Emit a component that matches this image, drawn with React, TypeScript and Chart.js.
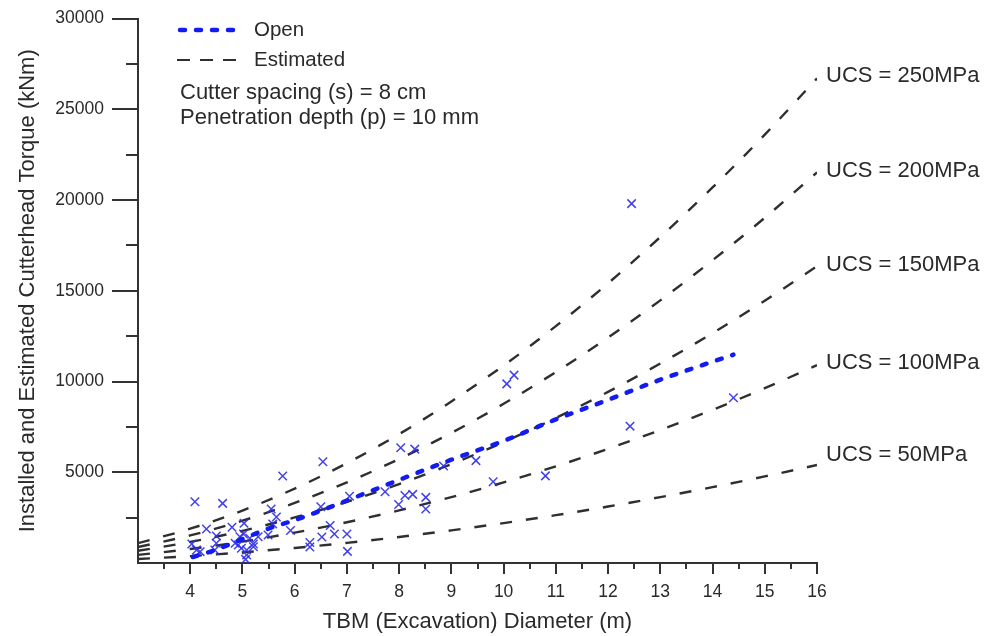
import React, { useEffect, useRef } from "react";
import { Chart, registerables } from "chart.js";

Chart.register(...registerables);

// ---- Data ----
const diameterGrid = [3, 4, 5, 6, 7, 8, 9, 10, 11, 12, 13, 14, 15, 16];
const ucs250 = [1090, 1890, 2890, 4100, 5500, 7100, 8900, 10880, 13050, 15410, 17960, 20690, 23600, 26700];
const ucs200 = [880, 1520, 2330, 3310, 4440, 5730, 7170, 8770, 10520, 12420, 14470, 16680, 19020, 21520];
const ucs150 = [670, 1160, 1770, 2510, 3370, 4350, 5450, 6660, 7990, 9430, 10990, 12660, 14450, 16350];
const ucs100 = [445, 770, 1180, 1675, 2245, 2900, 3630, 4440, 5325, 6290, 7330, 8440, 9630, 10900];
const ucs50 = [220, 380, 585, 830, 1110, 1435, 1800, 2200, 2635, 3110, 3630, 4180, 4770, 5400];

const ucsLabels = ["UCS = 250MPa", "UCS = 200MPa", "UCS = 150MPa", "UCS = 100MPa", "UCS = 50MPa"];
const ucsLabelTorque = [26850, 21600, 16420, 11050, 5950];

const openDiameter = [4.05, 4.5, 5.0, 5.5, 6.0, 7.0, 8.0, 9.0, 10.0, 11.0, 12.0, 13.0, 14.4];
const openTorque = [330, 740, 1320, 1900, 2360, 3440, 4580, 5690, 6730, 7910, 8990, 10100, 11480];

const installedDiameter = [
  4.09, 4.62, 5.77, 6.54, 8.03, 8.30, 10.06, 10.20, 12.45, 12.42, 14.40, 10.80, 9.80, 9.47,
  8.85, 7.73, 7.99, 8.11, 8.26, 8.51, 8.51, 7.05, 6.50, 6.68, 6.76, 7.00, 7.01, 6.52, 6.29,
  6.29, 5.92, 5.55, 5.65, 5.58, 5.49, 4.31, 4.50, 4.50, 4.47, 4.03, 4.12, 4.19, 4.80, 4.86,
  4.92, 4.98, 5.03, 5.02, 4.95, 5.08, 5.06, 5.08, 5.14, 5.21, 5.21, 5.30,
];
const installedTorque = [
  3375, 3285, 4790, 5580, 6350, 6275, 9870, 10350, 19800, 7540, 9100, 4800, 4475, 5640,
  5340, 3925, 3220, 3720, 3780, 3615, 2980, 3680, 3100, 2070, 1600, 1600, 640, 1430, 1130,
  880, 1790, 2980, 2530, 2145, 1540, 1870, 1490, 1085, 715, 1045, 715, 625, 1965, 1085,
  990, 810, 2185, 1600, 1450, 440, 200, 715, 1360, 1045, 900, 1450,
];

const xMinorTicks = [3.5, 4.5, 5.5, 6.5, 7.5, 8.5, 9.5, 10.5, 11.5, 12.5, 13.5, 14.5, 15.5];
const yMinorTicks = [2500, 7500, 12500, 17500, 22500, 27500];

// ---- Styles ----
const FONT = "'Liberation Sans', Arial, Helvetica, sans-serif";
const TEXT = "#2a2a2a";
const AXIS = "#333333";
const DASH_COLOR = "#2f2f2f";
const BLUE = "rgb(18, 28, 238)";
const MARK = "rgba(45, 45, 235, 0.9)";

const pts = (xs: number[], ys: number[]) => xs.map((x, i) => ({ x, y: ys[i] }));

const annotPlugin = {
  id: "annot",
  afterDraw(chart: any) {
    const { ctx, chartArea, scales } = chart;
    const xs = scales.x;
    const ys = scales.y;
    ctx.save();
    // minor ticks
    ctx.strokeStyle = AXIS;
    ctx.lineWidth = 2;
    xMinorTicks.forEach((v) => {
      const px = Math.round(xs.getPixelForValue(v));
      ctx.beginPath();
      ctx.moveTo(px, chartArea.bottom);
      ctx.lineTo(px, chartArea.bottom + 6);
      ctx.stroke();
    });
    yMinorTicks.forEach((v) => {
      const py = Math.round(ys.getPixelForValue(v));
      ctx.beginPath();
      ctx.moveTo(chartArea.left - 12, py);
      ctx.lineTo(chartArea.left, py);
      ctx.stroke();
    });

    // legend
    ctx.lineCap = "round";
    ctx.strokeStyle = BLUE;
    ctx.lineWidth = 4.5;
    ctx.setLineDash([5, 11]);
    ctx.beginPath();
    ctx.moveTo(180, 30);
    ctx.lineTo(237, 30);
    ctx.stroke();
    ctx.lineCap = "butt";
    ctx.strokeStyle = DASH_COLOR;
    ctx.lineWidth = 2;
    ctx.setLineDash([13, 10]);
    ctx.beginPath();
    ctx.moveTo(177, 60);
    ctx.lineTo(237, 60);
    ctx.stroke();
    ctx.setLineDash([]);

    ctx.fillStyle = TEXT;
    ctx.textBaseline = "middle";
    ctx.textAlign = "left";
    ctx.font = `20.5px ${FONT}`;
    ctx.fillText("Open", 254, 30);
    ctx.fillText("Estimated", 254, 60);
    ctx.font = `22px ${FONT}`;
    ctx.fillText("Cutter spacing (s) = 8 cm", 180, 93);
    ctx.fillText("Penetration depth (p) = 10 mm", 180, 118);

    // UCS labels
    ucsLabels.forEach((t, i) => {
      ctx.fillText(t, chartArea.right + 9, ys.getPixelForValue(ucsLabelTorque[i]));
    });
    ctx.restore();
  },
};

export default function App() {
  const ref = useRef<HTMLCanvasElement | null>(null);

  useEffect(() => {
    if (!ref.current) return;
    const curve = (data: number[]) => ({
      type: "scatter" as const,
      data: pts(diameterGrid, data),
      showLine: true,
      borderColor: DASH_COLOR,
      borderWidth: 2.4,
      borderDash: [12, 14],
      pointRadius: 0,
      cubicInterpolationMode: "monotone" as const,
      fill: false,
    });
    const chart = new Chart(ref.current, {
      type: "scatter",
      data: {
        datasets: [
          {
            data: pts(openDiameter, openTorque),
            showLine: true,
            borderColor: BLUE,
            borderWidth: 4.5,
            borderDash: [5, 11],
            borderCapStyle: "round",
            pointRadius: 0,
            cubicInterpolationMode: "monotone",
            fill: false,
          } as any,
          {
            data: pts(installedDiameter, installedTorque),
            showLine: false,
            pointStyle: "crossRot",
            pointRadius: 6,
            borderColor: MARK,
            backgroundColor: MARK,
            pointBorderWidth: 1.5,
            borderWidth: 1.5,
          } as any,
          curve(ucs250),
          curve(ucs200),
          curve(ucs150),
          curve(ucs100),
          curve(ucs50),
        ],
      },
      options: {
        responsive: false,
        animation: false,
        devicePixelRatio: 1,
        layout: { padding: { top: 18, right: 186, left: 0, bottom: 0 } },
        plugins: { legend: { display: false }, tooltip: { enabled: false } },
        scales: {
          x: {
            type: "linear",
            min: 3,
            max: 16,
            afterFit: (s: any) => {
              s.height = 73;
            },
            ticks: {
              stepSize: 1,
              padding: 8,
              autoSkip: false,
              maxRotation: 0,
              color: TEXT,
              font: { family: FONT, size: 17.5 },
              callback: (v: any) => (v === 3 ? "" : String(v)),
            },
            grid: {
              drawOnChartArea: false,
              drawTicks: true,
              tickLength: 11,
              lineWidth: 2,
              color: (c: any) => (c.tick && c.tick.value === 3 ? "rgba(0,0,0,0)" : AXIS),
            },
            border: { display: true, color: AXIS, width: 2 },
            title: {
              display: true,
              text: "TBM (Excavation) Diameter (m)",
              color: TEXT,
              font: { family: FONT, size: 22 },
              padding: { top: 0, bottom: 1 },
            },
          },
          y: {
            type: "linear",
            min: 0,
            max: 30000,
            afterFit: (s: any) => {
              s.width = 138;
            },
            ticks: {
              stepSize: 5000,
              padding: 8,
              color: TEXT,
              font: { family: FONT, size: 17.5 },
              callback: (v: any) => (v === 0 ? "" : String(v)),
            },
            grid: {
              drawOnChartArea: false,
              drawTicks: true,
              tickLength: 26,
              lineWidth: 2,
              color: (c: any) => (c.tick && c.tick.value === 0 ? "rgba(0,0,0,0)" : AXIS),
            },
            border: { display: true, color: AXIS, width: 2 },
            title: {
              display: true,
              text: "Installed and Estimated Cutterhead Torque (kNm)",
              color: TEXT,
              font: { family: FONT, size: 22 },
              padding: { top: 15, bottom: 0 },
            },
          },
        },
      },
      plugins: [annotPlugin],
    } as any);
    return () => chart.destroy();
  }, []);

  return (
    <div style={{ position: "fixed", left: 0, top: 0, width: 1003, height: 636, background: "#fff" }}>
      <canvas ref={ref} width={1003} height={636} style={{ display: "block" }} />
    </div>
  );
}
